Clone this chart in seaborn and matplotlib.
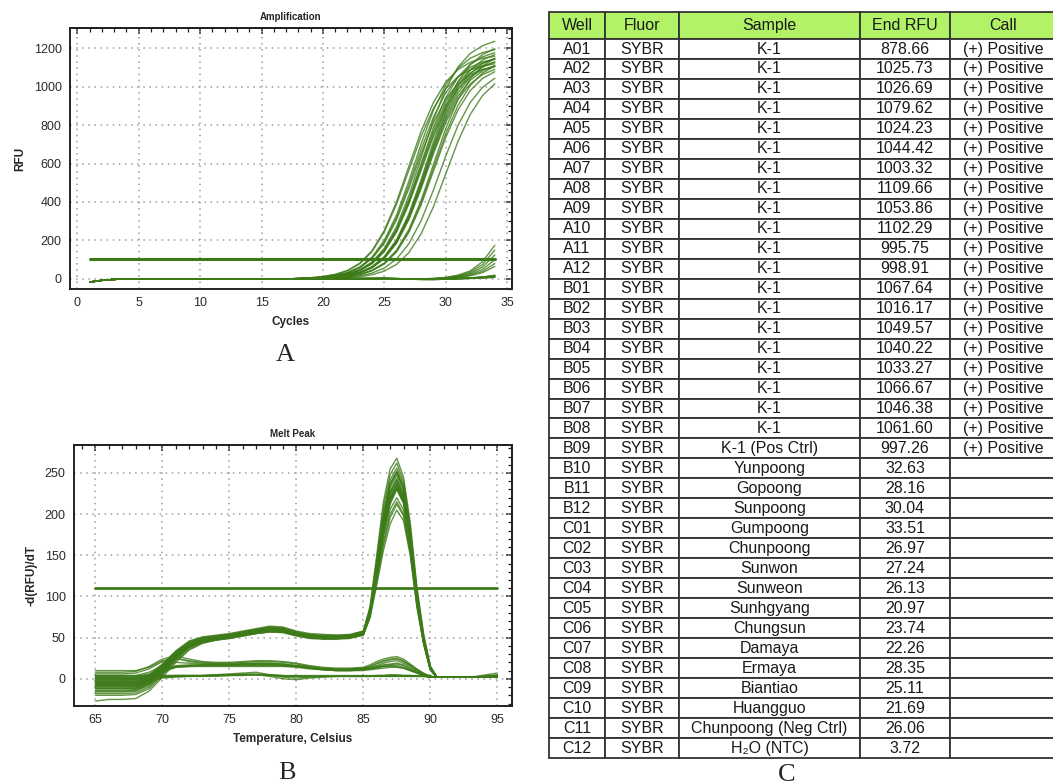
import matplotlib
matplotlib.use('Agg')
import matplotlib.pyplot as plt
import seaborn as sns
import pandas as pd
from matplotlib.ticker import MultipleLocator

sns.set_theme(style='white')
plt.rcParams['font.family'] = ['Liberation Sans', 'DejaVu Sans']

# ---------------- A: amplification (RFU per cycle) ----------------
cycles = list(range(1, 35))
early_baseline = [-16, -7, -2, 0, 1, 1, 0, 1, 1, 0, 0, 1, 1, 0, 0, 0, 0]  # cycles 1-17, shared
# cycles 18-34 for each well
amp_pos = [
    [4, 7, 13, 24, 44, 82, 147, 253, 402, 585, 768, 917, 1023, 1088, 1126, 1147, 1157],
    [3, 6, 12, 23, 43, 79, 142, 244, 389, 565, 741, 886, 988, 1051, 1087, 1107, 1118],
    [3, 5, 10, 18, 34, 63, 114, 201, 333, 508, 702, 877, 1009, 1095, 1147, 1176, 1192],
    [3, 5, 9, 17, 32, 60, 110, 193, 319, 487, 673, 841, 967, 1050, 1100, 1128, 1143],
    [2, 5, 9, 17, 31, 58, 106, 186, 308, 470, 650, 812, 934, 1014, 1062, 1089, 1103],
    [2, 4, 7, 14, 26, 48, 88, 159, 272, 433, 630, 827, 988, 1101, 1172, 1212, 1235],
    [2, 4, 7, 13, 24, 46, 84, 151, 259, 413, 600, 787, 941, 1049, 1116, 1154, 1176],
    [2, 4, 8, 14, 25, 46, 85, 150, 255, 405, 588, 770, 918, 1022, 1086, 1122, 1142],
    [2, 3, 7, 12, 23, 44, 81, 145, 248, 396, 575, 754, 902, 1005, 1070, 1106, 1127],
    [2, 3, 6, 12, 23, 43, 79, 142, 244, 389, 565, 741, 886, 988, 1051, 1087, 1107],
    [1, 3, 5, 10, 18, 34, 64, 116, 204, 338, 517, 713, 892, 1026, 1113, 1166, 1196],
    [1, 3, 5, 9, 18, 34, 62, 113, 199, 330, 504, 696, 870, 1001, 1086, 1138, 1166],
    [1, 3, 5, 9, 18, 33, 61, 112, 196, 325, 496, 684, 856, 984, 1068, 1119, 1147],
    [1, 3, 5, 9, 17, 32, 60, 110, 193, 319, 487, 673, 841, 967, 1050, 1100, 1128],
    [1, 3, 5, 9, 17, 32, 59, 108, 189, 314, 479, 661, 827, 951, 1032, 1081, 1108],
    [1, 2, 5, 9, 17, 31, 58, 106, 186, 308, 470, 650, 812, 934, 1014, 1062, 1089],
    [1, 2, 4, 7, 13, 24, 45, 83, 150, 257, 409, 595, 781, 933, 1040, 1107, 1145],
    [1, 2, 3, 7, 12, 23, 44, 81, 145, 248, 396, 575, 754, 902, 1005, 1070, 1106],
    [1, 2, 3, 6, 12, 23, 43, 78, 141, 242, 385, 560, 735, 878, 979, 1042, 1077],
    [1, 1, 2, 5, 9, 16, 31, 57, 104, 183, 303, 462, 638, 798, 917, 996, 1043],
    [0, 1, 2, 3, 6, 12, 22, 41, 76, 137, 235, 375, 545, 715, 855, 953, 1014],
]
amp_late = [
    [0, 1, 1, 1, 2, 2, 2, 3, 2, 1, 1, 3, 8, 20, 42, 90, 175],
    [1, 1, 1, 1, 2, 2, 3, 3, 2, 1, 1, 2, 7, 17, 36, 75, 150],
    [0, 0, 1, 1, 1, 2, 2, 2, 1, 0, 0, 2, 6, 14, 30, 62, 125],
    [1, 1, 1, 2, 2, 2, 2, 3, 2, 1, 0, 1, 5, 12, 25, 50, 100],
    [0, 1, 1, 1, 1, 2, 2, 2, 1, 0, 0, 1, 4, 10, 20, 40, 80],
    [1, 1, 1, 1, 2, 2, 2, 2, 1, 0, 0, 1, 3, 8, 17, 33, 65],
]
amp_flat = [
    [0, 1, 1, 1, 2, 2, 3, 4, 2, 0, -2, -2, 0, 2, 4, 7, 12],
    [1, 1, 2, 2, 2, 3, 3, 3, 1, -1, -3, -3, -1, 1, 3, 6, 10],
    [0, 0, 1, 1, 1, 2, 2, 2, 1, 0, -1, -1, 0, 2, 5, 9, 16],
    [1, 1, 1, 2, 2, 2, 3, 3, 2, 0, -1, -2, 0, 3, 6, 10, 18],
    [0, 0, 0, 1, 1, 1, 2, 2, 1, -1, -2, -2, -1, 1, 3, 5, 8],
    [1, 1, 1, 1, 2, 2, 2, 3, 2, 1, 0, 0, 1, 3, 5, 9, 14],
    [0, 0, 1, 1, 1, 2, 2, 2, 1, -1, -2, -3, -1, 2, 4, 8, 20],
    [1, 1, 1, 1, 1, 2, 2, 2, 1, 0, -1, -1, 0, 2, 4, 7, 11],
    [0, 0, 0, 1, 1, 2, 2, 3, 2, 0, -1, -1, 1, 3, 6, 11, 17],
]
amp_threshold = 105

# ---------------- B: melt peak (-d(RFU)/dT) ----------------
temps = [65, 66, 67, 68, 69, 70, 71, 72, 73, 74, 75, 76, 77, 78, 79, 80, 81, 82, 83, 84,
         85, 85.5, 86, 86.5, 87, 87.5, 88, 88.5, 89, 89.5, 90, 90.5, 91, 93, 95]
melt_pos = [
    [-8, -8, -8, -8, -2, 14, 32, 45, 50, 52, 54, 57, 60, 63, 62, 57, 54, 53, 53, 53, 58, 88, 150, 215, 255, 268, 245, 190, 112, 55, 16, 2, 2, 2, 3],
    [-12, -12, -12, -12, -5, 10, 28, 42, 49, 51, 53, 56, 59, 62, 61, 56, 53, 52, 52, 52, 57, 85, 145, 208, 248, 262, 240, 185, 108, 52, 15, 2, 2, 2, 3],
    [-4, -4, -4, -4, 1, 16, 33, 45, 50, 52, 54, 57, 60, 62, 61, 56, 53, 52, 52, 53, 57, 84, 140, 202, 242, 256, 236, 182, 106, 52, 14, 2, 2, 2, 2],
    [-15, -15, -15, -14, -7, 8, 26, 40, 48, 51, 53, 56, 59, 62, 61, 56, 52, 51, 51, 52, 56, 82, 138, 198, 238, 252, 232, 180, 105, 50, 14, 2, 2, 2, 3],
    [2, 2, 2, 2, 5, 18, 34, 46, 51, 53, 55, 58, 61, 64, 63, 58, 55, 54, 53, 54, 58, 84, 137, 195, 235, 250, 230, 178, 104, 50, 13, 2, 2, 2, 3],
    [-9, -9, -9, -9, -3, 12, 29, 42, 48, 51, 53, 56, 59, 61, 60, 55, 52, 51, 51, 52, 56, 81, 134, 192, 232, 247, 228, 176, 102, 49, 13, 2, 2, 2, 2],
    [-18, -18, -18, -17, -10, 6, 24, 38, 46, 49, 51, 54, 57, 60, 59, 54, 51, 50, 50, 51, 55, 80, 132, 188, 228, 243, 224, 173, 100, 48, 13, 2, 2, 2, 3],
    [-6, -6, -6, -6, 0, 14, 31, 43, 48, 50, 52, 55, 58, 60, 59, 54, 51, 50, 50, 51, 55, 79, 130, 185, 225, 240, 222, 171, 99, 47, 12, 2, 2, 2, 2],
    [-1, -1, -1, -1, 3, 17, 33, 44, 49, 51, 53, 56, 59, 61, 60, 55, 52, 51, 51, 52, 56, 80, 130, 184, 222, 238, 220, 170, 98, 47, 12, 2, 2, 2, 3],
    [-12, -12, -12, -11, -5, 9, 27, 40, 46, 49, 51, 54, 57, 59, 58, 53, 50, 49, 49, 50, 54, 78, 128, 180, 218, 235, 218, 168, 97, 46, 12, 2, 2, 2, 2],
    [-20, -20, -20, -19, -12, 4, 22, 36, 44, 48, 50, 53, 56, 59, 58, 54, 51, 50, 50, 51, 55, 79, 129, 182, 220, 236, 219, 168, 97, 46, 12, 2, 2, 2, 3],
    [-7, -7, -7, -7, -1, 13, 30, 42, 47, 49, 51, 54, 56, 58, 57, 53, 50, 49, 49, 50, 54, 77, 126, 178, 215, 232, 215, 165, 95, 45, 12, 2, 2, 2, 2],
    [-3, -3, -3, -3, 2, 15, 31, 42, 47, 49, 51, 53, 55, 57, 57, 53, 50, 49, 49, 50, 54, 77, 125, 176, 212, 230, 213, 164, 94, 45, 12, 2, 2, 2, 3],
    [-14, -14, -14, -13, -6, 8, 26, 39, 45, 48, 50, 53, 56, 58, 58, 54, 51, 50, 50, 51, 55, 78, 126, 177, 214, 231, 214, 165, 95, 45, 12, 2, 2, 2, 2],
    [-10, -10, -10, -10, -4, 10, 27, 40, 46, 49, 51, 54, 57, 60, 60, 56, 53, 52, 52, 53, 57, 80, 128, 180, 218, 234, 216, 166, 96, 46, 12, 2, 2, 2, 3],
    [-27, -25, -25, -24, -15, 2, 20, 35, 43, 47, 50, 53, 56, 59, 58, 54, 51, 50, 50, 51, 55, 78, 124, 172, 206, 220, 205, 158, 92, 44, 11, 2, 2, 2, 2],
    [-16, -16, -16, -15, -8, 6, 24, 38, 45, 48, 50, 53, 56, 58, 57, 53, 50, 49, 49, 50, 54, 76, 120, 166, 200, 215, 200, 155, 90, 43, 11, 2, 2, 2, 3],
    [-5, -5, -5, -5, 0, 13, 29, 40, 45, 47, 49, 52, 55, 57, 57, 53, 50, 49, 49, 50, 53, 75, 118, 162, 196, 212, 198, 153, 89, 43, 11, 2, 2, 2, 2],
    [-11, -11, -11, -11, -5, 9, 26, 38, 44, 47, 49, 52, 55, 57, 56, 52, 49, 48, 48, 49, 53, 74, 114, 156, 188, 205, 192, 150, 87, 42, 11, 2, 2, 2, 3],
    [0, 0, 0, 0, 4, 16, 31, 42, 47, 49, 51, 54, 57, 59, 59, 55, 52, 51, 51, 52, 56, 80, 131, 186, 226, 242, 224, 172, 99, 47, 12, 2, 2, 2, 2],
    [-8, -8, -8, -8, -2, 12, 29, 41, 47, 50, 52, 55, 58, 61, 60, 55, 52, 51, 51, 52, 56, 82, 136, 194, 236, 252, 232, 179, 104, 50, 13, 2, 2, 2, 7],
]
melt_low = [
    [8, 8, 8, 9, 15, 24, 28, 24, 21, 20, 20, 21, 22, 22, 21, 19, 16, 14, 13, 13, 14, 17, 21, 24, 26, 27, 24, 18, 12, 7, 3, 2, 2, 2, 3],
    [6, 6, 6, 7, 12, 21, 25, 22, 20, 19, 19, 20, 21, 21, 20, 18, 15, 13, 12, 12, 13, 15, 18, 21, 23, 24, 21, 16, 11, 6, 3, 2, 2, 2, 2],
    [3, 3, 3, 3, 6, 12, 16, 17, 17, 17, 17, 18, 18, 18, 17, 16, 14, 12, 11, 11, 12, 13, 15, 17, 18, 19, 17, 13, 9, 5, 3, 2, 2, 2, 3],
    [-2, -2, -2, -2, 2, 10, 15, 16, 17, 17, 17, 17, 17, 17, 16, 15, 13, 11, 10, 10, 11, 12, 14, 16, 17, 18, 16, 12, 8, 5, 2, 2, 2, 2, 2],
    [1, 1, 1, 1, 4, 11, 15, 16, 16, 16, 16, 17, 17, 17, 16, 15, 13, 11, 10, 10, 11, 12, 13, 15, 16, 16, 14, 11, 8, 5, 2, 2, 2, 2, 3],
    [-5, -5, -5, -5, -1, 8, 14, 15, 15, 15, 15, 15, 15, 15, 15, 14, 12, 11, 10, 10, 10, 11, 12, 13, 14, 14, 13, 10, 7, 4, 2, 2, 2, 2, 2],
    [4, 4, 4, 4, 8, 16, 20, 19, 18, 18, 18, 19, 19, 19, 18, 16, 14, 12, 11, 11, 12, 14, 16, 19, 21, 22, 19, 15, 10, 6, 3, 2, 2, 2, 3],
    [0, 0, 0, 0, 3, 10, 14, 15, 16, 16, 16, 16, 16, 16, 16, 15, 13, 12, 11, 11, 12, 13, 14, 15, 15, 15, 13, 10, 7, 4, 2, 2, 2, 2, 2],
    [10, 10, 10, 10, 14, 22, 25, 21, 19, 18, 18, 18, 19, 19, 18, 16, 14, 12, 12, 12, 13, 15, 19, 22, 24, 25, 22, 17, 11, 6, 3, 2, 2, 2, 3],
]
melt_flat = [
    [-5, -5, -5, -5, -2, 2, 3, 3, 3, 4, 4, 5, 5, 4, 3, 3, 3, 3, 3, 3, 3, 3, 3, 3, 3, 3, 3, 3, 3, 3, 3, 2, 2, 2, 4],
    [2, 2, 2, 2, 3, 4, 4, 4, 4, 5, 6, 7, 8, 5, 2, 1, 2, 3, 3, 3, 3, 3, 4, 4, 5, 5, 4, 4, 3, 3, 2, 2, 2, 2, 3],
    [-8, -8, -8, -8, -4, 1, 2, 3, 3, 3, 4, 4, 5, 3, 0, -1, 1, 2, 3, 3, 3, 3, 3, 3, 3, 3, 3, 3, 3, 3, 3, 2, 2, 2, 2],
    [0, 0, 0, 0, 1, 3, 4, 4, 4, 5, 5, 6, 6, 5, 4, 3, 3, 3, 3, 3, 3, 3, 4, 4, 4, 4, 4, 4, 3, 3, 3, 2, 2, 2, 5],
    [-3, -3, -3, -3, 0, 2, 3, 3, 4, 4, 5, 5, 5, 4, 3, 3, 3, 3, 3, 3, 3, 3, 3, 3, 3, 3, 3, 3, 3, 3, 2, 2, 2, 2, 3],
    [4, 4, 4, 4, 4, 4, 4, 4, 4, 4, 5, 5, 5, 5, 4, 4, 4, 4, 4, 4, 4, 4, 4, 4, 4, 4, 4, 4, 4, 4, 3, 2, 2, 2, 3],
]
melt_threshold = 110

# ---------------- C: results table ----------------
headers = ['Well', 'Fluor', 'Sample', 'End RFU', 'Call']
wells = ['A01', 'A02', 'A03', 'A04', 'A05', 'A06', 'A07', 'A08', 'A09', 'A10', 'A11', 'A12',
         'B01', 'B02', 'B03', 'B04', 'B05', 'B06', 'B07', 'B08', 'B09', 'B10', 'B11', 'B12',
         'C01', 'C02', 'C03', 'C04', 'C05', 'C06', 'C07', 'C08', 'C09', 'C10', 'C11', 'C12']
samples = ['K-1'] * 20 + ['K-1 (Pos Ctrl)', 'Yunpoong', 'Gopoong', 'Sunpoong', 'Gumpoong',
                          'Chunpoong', 'Sunwon', 'Sunweon', 'Sunhgyang', 'Chungsun', 'Damaya',
                          'Ermaya', 'Biantiao', 'Huangguo', 'Chunpoong (Neg Ctrl)', 'H₂O (NTC)']
end_rfu = [878.66, 1025.73, 1026.69, 1079.62, 1024.23, 1044.42, 1003.32, 1109.66, 1053.86,
           1102.29, 995.75, 998.91, 1067.64, 1016.17, 1049.57, 1040.22, 1033.27, 1066.67,
           1046.38, 1061.60, 997.26, 32.63, 28.16, 30.04, 33.51, 26.97, 27.24, 26.13, 20.97,
           23.74, 22.26, 28.35, 25.11, 21.69, 26.06, 3.72]
calls = ['(+) Positive'] * 21 + [''] * 15

green = '#3d7b19'
dark = '#222222'


def long_table(xs, curves, xname, yname):
    frames = []
    for i, ys in enumerate(curves):
        d = pd.DataFrame({xname: xs, yname: ys})
        d['well'] = i
        frames.append(d)
    return pd.concat(frames, ignore_index=True)


def style_axes(ax, title, xlabel, ylabel, xmajor, xminor, ymajor, yminor):
    ax.set_title(title, fontsize=7, fontweight='bold', pad=6)
    ax.set_xlabel(xlabel, fontsize=8.5, fontweight='bold', labelpad=5)
    ax.set_ylabel(ylabel, fontsize=8.5, fontweight='bold', labelpad=5)
    ax.xaxis.set_major_locator(MultipleLocator(xmajor))
    ax.xaxis.set_minor_locator(MultipleLocator(xminor))
    ax.yaxis.set_major_locator(MultipleLocator(ymajor))
    ax.yaxis.set_minor_locator(MultipleLocator(yminor))
    ax.grid(True, which='major', color='#9c9c9c', linestyle=(0, (1, 3)), linewidth=1.1)
    # left / bottom ticks cross the frame
    ax.tick_params(which='both', direction='inout', top=False, right=False, color=dark)
    ax.tick_params(which='major', length=8, width=1.1, labelsize=9, labelcolor='#2a2a2a', pad=2)
    ax.tick_params(which='minor', length=5, width=0.9)
    for s in ax.spines.values():
        s.set_linewidth(1.4)
        s.set_color(dark)
    # top / right ticks point inward, no labels
    top = ax.secondary_xaxis('top')
    right = ax.secondary_yaxis('right')
    for sec, axis in ((top, top.xaxis), (right, right.yaxis)):
        axis.set_major_locator(MultipleLocator(xmajor if sec is top else ymajor))
        axis.set_minor_locator(MultipleLocator(xminor if sec is top else yminor))
        sec.tick_params(which='both', direction='in', color=dark, labeltop=False,
                        labelright=False, labelbottom=False, labelleft=False)
        sec.tick_params(which='major', length=4, width=1.1)
        sec.tick_params(which='minor', length=3, width=0.9)
        for s in sec.spines.values():
            s.set_linewidth(1.4)
            s.set_color(dark)


fig = plt.figure(figsize=(10.53, 7.84), dpi=100)

# A
ax_a = fig.add_axes([70 / 1053, 1 - 289 / 784, 442 / 1053, 261 / 784])
amp_df = long_table(cycles, [early_baseline + c for c in amp_pos + amp_late + amp_flat], 'cycle', 'rfu')
sns.lineplot(data=amp_df, x='cycle', y='rfu', units='well', estimator=None, color=green,
             linewidth=1.0, alpha=0.8, legend=False, ax=ax_a)
sns.lineplot(x=[cycles[0], cycles[-1]], y=[amp_threshold, amp_threshold], color=green,
             linewidth=2.2, ax=ax_a)
ax_a.set_xlim(-0.6, 35.4)
ax_a.set_ylim(-52, 1304)
style_axes(ax_a, 'Amplification', 'Cycles', 'RFU', 5, 1, 200, 50)

# B
ax_b = fig.add_axes([74 / 1053, 1 - 706 / 784, 438 / 1053, 261 / 784])
melt_df = long_table(temps, melt_pos + melt_low + melt_flat, 'temp', 'dRFU')
sns.lineplot(data=melt_df, x='temp', y='dRFU', units='well', estimator=None, color=green,
             linewidth=1.0, alpha=0.8, legend=False, ax=ax_b)
sns.lineplot(x=[temps[0], temps[-1]], y=[melt_threshold, melt_threshold], color=green,
             linewidth=2.0, ax=ax_b)
ax_b.set_xlim(63.4, 96.1)
ax_b.set_ylim(-33, 284)
style_axes(ax_b, 'Melt Peak', 'Temperature, Celsius', '-d(RFU)/dT', 5, 1, 50, 10)

# C
ax_c = fig.add_axes([549 / 1053, 1 - 758 / 784, 507 / 1053, 746 / 784])
ax_c.axis('off')
cell_text = [[w, 'SYBR', s, f'{r:.2f}', c] for w, s, r, c in zip(wells, samples, end_rfu, calls)]
col_w = [56, 74, 181, 90, 106]
tbl = ax_c.table(cellText=cell_text, colLabels=headers,
                 colWidths=[w / sum(col_w) for w in col_w],
                 cellLoc='center', bbox=[0, 0, 1, 1])
tbl.auto_set_font_size(False)
tbl.set_fontsize(11.5)
for (r, c), cell in tbl.get_celld().items():
    cell.set_edgecolor('#333333')
    cell.set_linewidth(1.3)
    cell.set_height(27 if r == 0 else 19.95)
    cell.get_text().set_color('#1a1a1a')
    if r == 0:
        cell.set_facecolor('#b2f266')

# panel letters
fig.text(285 / 1053, 1 - 355 / 784, 'A', ha='center', va='center', fontsize=19, family='Liberation Serif')
fig.text(287 / 1053, 1 - 773 / 784, 'B', ha='center', va='center', fontsize=19, family='Liberation Serif')
fig.text(787 / 1053, 1 - 775 / 784, 'C', ha='center', va='center', fontsize=19, family='Liberation Serif')

fig.savefig('out.png', dpi=100)
